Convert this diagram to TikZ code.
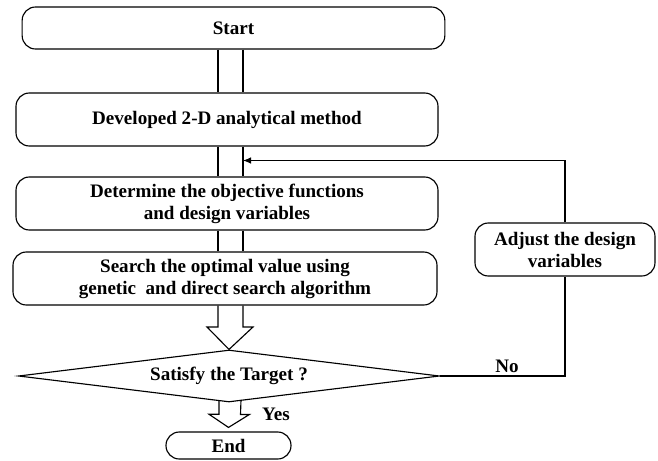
\documentclass[tikz,border=0pt]{standalone}
\usepackage{fontspec}
\setmainfont{Liberation Serif}
\usetikzlibrary{shapes.geometric,arrows.meta}

\begin{document}
\begin{tikzpicture}[x=0.75pt,y=-0.75pt,line width=0.85pt,>={Latex[length=6pt,width=5pt]},
  procbox/.style={draw,rounded corners=10pt,minimum width=316.5pt,minimum height=39.75pt,inner sep=0pt,align=center},
  cond/.style={draw,diamond,shape aspect=8,minimum width=315.75pt,minimum height=39pt,inner sep=0pt},
  every node/.style={font=\fontsize{14.3}{16.5}\selectfont\bfseries}]
  \useasboundingbox (0,0) rectangle (658,461);
  % main column
  \node[procbox,minimum width=317pt,minimum height=31.5pt] (start) at (233.5,28) {Start};
  \node[procbox] (dev)  at (227,119.5) {Developed 2-D analytical method};
  \node[procbox] (det)  at (227,203.5) {Determine the objective functions\\and design variables};
  \node[procbox,minimum width=318pt] (srch) at (225,278.5) {Search the optimal value using\\genetic\ \ and direct search algorithm};
  \node[cond] (sat) at (229,376) {Satisfy the Target ?};
  \node[procbox,minimum width=93.75pt,minimum height=20.25pt] (endn) at (228.5,445.5) {End};
  \node[procbox,minimum width=135pt] (adj) at (565,249.5) {Adjust the design\\variables};
  \node (no)  at (507,366) {No};
  \node (yes) at (276,414) {Yes};
  % double-line shafts
  \coordinate (sl) at (218,0);
  \coordinate (sr) at (243,0);
  \foreach \a/\b in {start/dev,dev/det,det/srch} {
    \draw (\a.south -| sl) -- (\b.north -| sl);
    \draw (\a.south -| sr) -- (\b.north -| sr);
  }
  % hollow arrows
  \draw (srch.south -| sl) -- (218,327) -- (207,327) -- (sat.north) -- (253,327) -- (243,327) -- (srch.south -| sr);
  \draw ([xshift=-7.5pt,yshift=1pt]sat.south) -- ++(0,13) -- ++(-10,0) -- ([yshift=3pt]endn.north)
        -- ++(21,-13) -- ++(-9,0) -- ([xshift=9pt,yshift=2pt]sat.south);
  % feedback loop
  \coordinate (fb) at (243,160.5);
  \draw (sat.east) -| (adj.south);
  \draw[->] (adj.north) |- (fb);
\end{tikzpicture}
\end{document}
